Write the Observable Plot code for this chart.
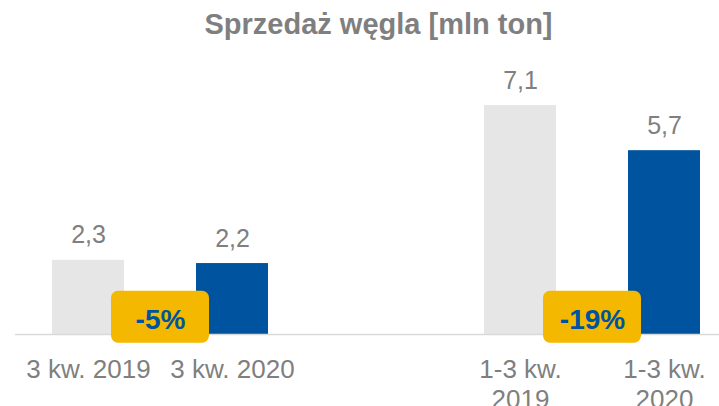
<!DOCTYPE html>
<html>
<head>
<meta charset="utf-8">
<script src="https://cdn.jsdelivr.net/npm/d3@7"></script>
<script src="https://cdn.jsdelivr.net/npm/@observablehq/plot@0.6"></script>
<style>
  html, body { margin: 0; padding: 0; background: #ffffff; }
  #title {
    height: 60px; box-sizing: border-box; padding-top: 4px; padding-left: 38px;
    line-height: 40px; text-align: center; white-space: nowrap;
    font-family: "Liberation Sans", Arial, sans-serif; font-weight: bold; font-size: 29px; color: #7f7f7f;
  }
  svg { display: block; }
</style>
</head>
<body>
<div id="title">Sprzedaż węgla [mln ton]</div>
<div id="chart"></div>
<script>
// Data
const slots = ["3 kw. 2019", "3 kw. 2020", " ", "1-3 kw.\n2019", "1-3 kw.\n2020"];
const categories = ["3 kw. 2019", "3 kw. 2020", "1-3 kw.\n2019", "1-3 kw.\n2020"];
const years = ["2019", "2020", "2019", "2020"];
const values = [2.3, 2.2, 7.1, 5.7];
const changeFrom = ["3 kw. 2019", "1-3 kw.\n2019"];
const changeLabels = ["-5%", "-19%"];

const bars = categories.map((c, i) => ({cat: c, year: years[i], value: values[i]}));
const badges = changeFrom.map((c, i) => ({cat: c, label: changeLabels[i]}));
const fmt = v => d3.format(".1f")(v).replace(".", ",");

const gray = "#7f7f7f";

const chart = Plot.plot({
  width: 719,
  height: 346,
  marginLeft: 15,
  marginRight: 0,
  marginTop: 16,
  marginBottom: 72,
  style: {fontFamily: "'Liberation Sans', Arial, sans-serif", fontSize: "25px", background: "#ffffff"},
  x: {type: "band", domain: slots, paddingInner: 0.5, paddingOuter: 0.194, align: 0.66, axis: null},
  y: {domain: [0, 8], axis: null},
  color: {domain: ["2019", "2020"], range: ["#e6e6e6", "#00539f"]},
  marks: [
    Plot.barY(bars, {x: "cat", y: "value", fill: "year"}),
    Plot.ruleY([0], {stroke: "#d9d9d9", strokeWidth: 1.5}),
    Plot.text(bars, {x: "cat", y: "value", text: d => fmt(d.value), dy: -17, lineAnchor: "bottom", fill: gray, fontSize: 25}),
    Plot.text(categories, {x: d => d, frameAnchor: "bottom", lineAnchor: "top", dy: 22.5, lineHeight: 1.154, fill: gray, fontSize: 26}),
    Plot.barY(badges, {x: "cat", y1: () => 0, y2: () => 0, fill: "#f5b800", rx: 7,
      insetLeft: 59, insetRight: -85, insetTop: -43.3, insetBottom: -8.7}),
    Plot.text(badges, {x: "cat", y: () => 0, text: "label", dx: 72, dy: -5.7, lineAnchor: "bottom",
      fill: "#00539f", fontWeight: "bold", fontSize: 28})
  ]
});
document.getElementById("chart").appendChild(chart);
</script>
</body>
</html>
